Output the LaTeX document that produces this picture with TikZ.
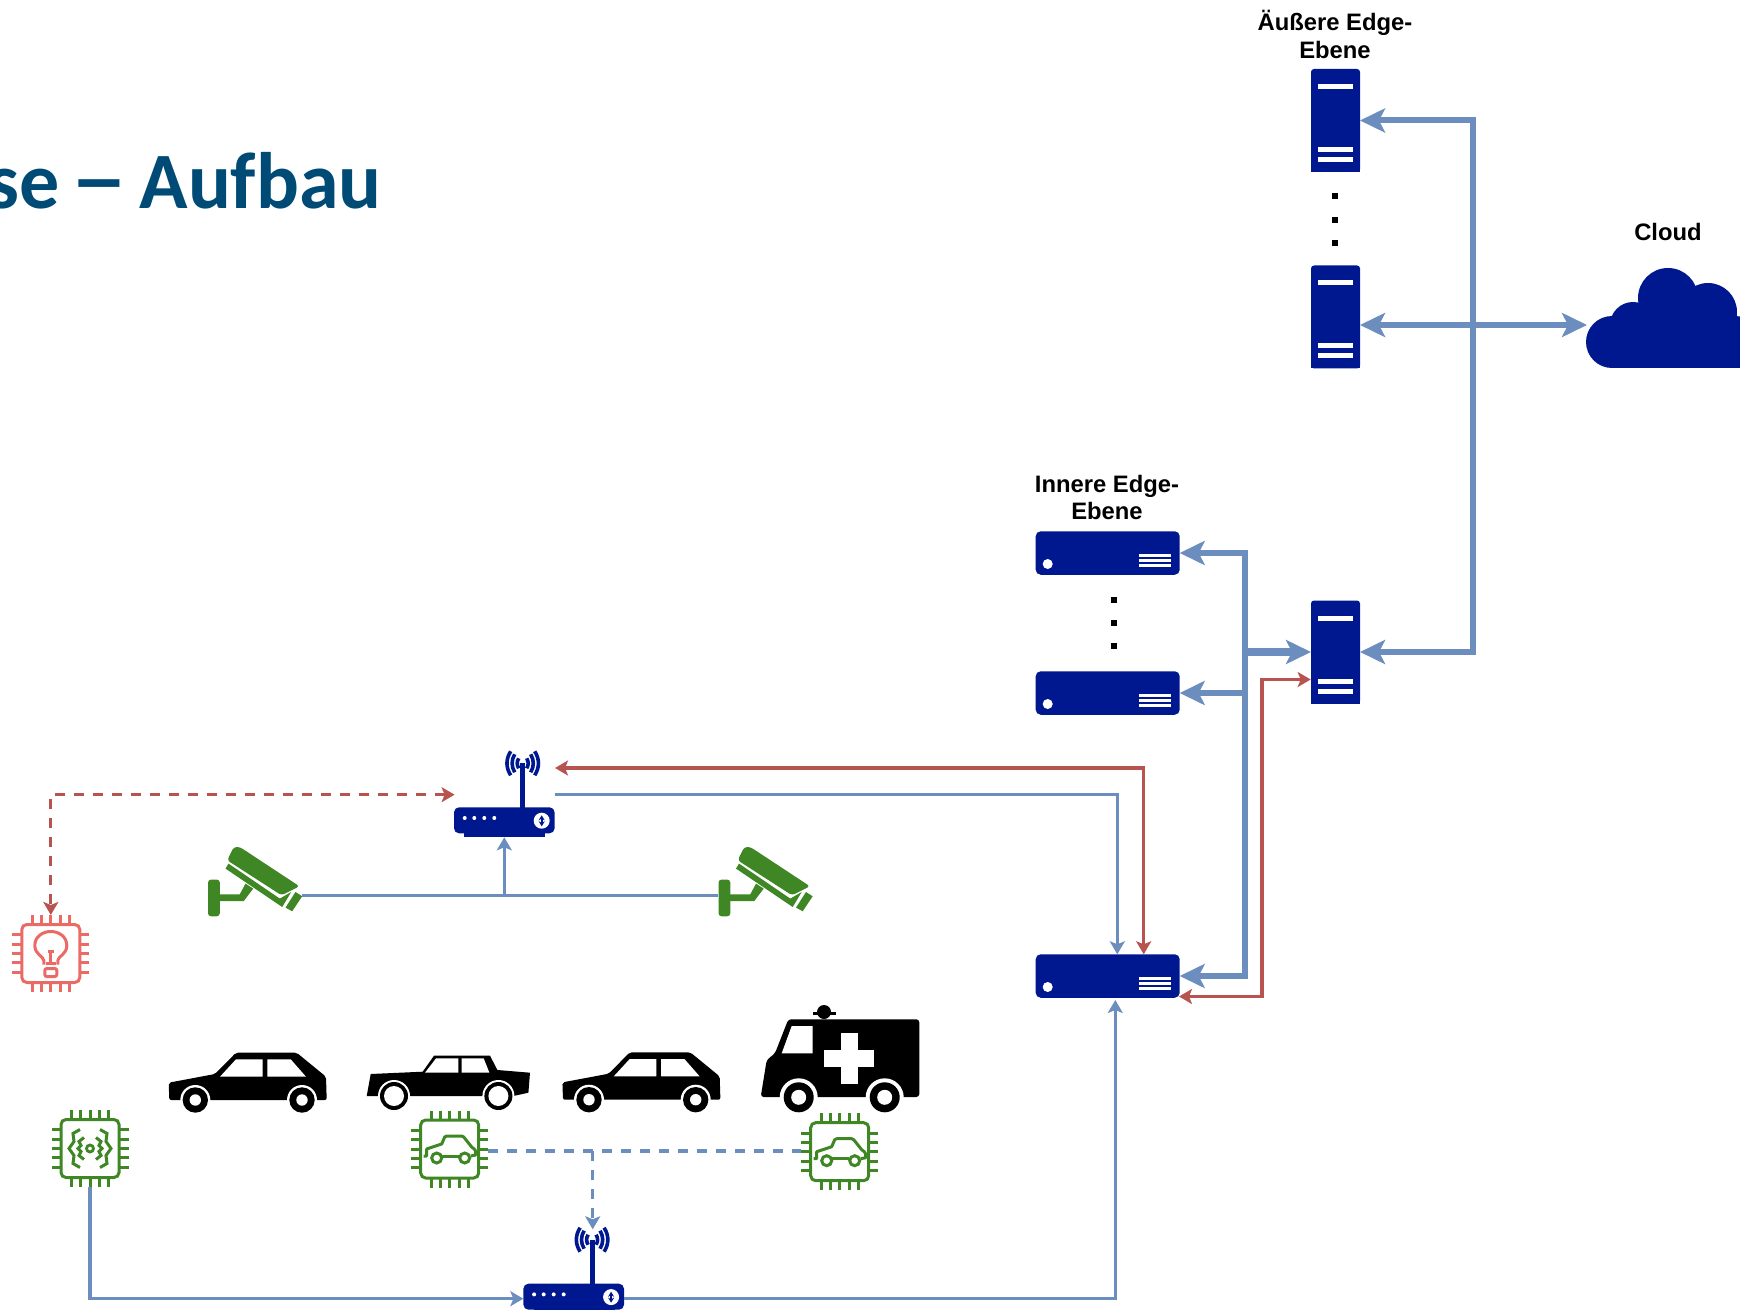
\documentclass[tikz,border=0pt]{standalone}
\usepackage{fontspec}
\setmainfont{Liberation Sans}
\newfontfamily\headfont[Ligatures=NoCommon]{Carlito}
\usetikzlibrary{arrows.meta,calc}

\definecolor{edgeblue}{HTML}{00188F}
\definecolor{linkblue}{HTML}{6C8EBF}
\definecolor{linkred}{HTML}{B85450}
\definecolor{chipgreen}{HTML}{3F8624}
\definecolor{chipred}{HTML}{EA6B66}
\definecolor{headblue}{HTML}{004B76}

\tikzset{
    iconbox/.style 2 args={inner sep=0pt, outer sep=0pt, minimum width=#1, minimum height=#2},
    thicklink/.style={linkblue, line width=3pt, >={Stealth[length=12.5pt,width=12pt,inset=3pt]}},
    bluelink/.style={linkblue, line width=1.6pt},
    redlink/.style={linkred, line width=1.6pt},
    dashlink/.style={dash pattern=on 5pt off 4.5pt},
    levellabel/.style={align=center, font=\fontsize{11.9}{13.8}\selectfont\bfseries},
    pics/tower/.style={code={
        \node[iconbox={24.5pt}{51.5pt}, fill=edgeblue, rounded corners=1.5pt] (-box) {};
        \fill[edgeblue] (-24.5,30) rectangle (24.5,51.5);
        \fill[white] (-17.5,-36.5) rectangle (17.5,-31.5);
        \fill[white] (-17.5,26.5) rectangle (17.5,31.5);
        \fill[white] (-17.5,36.5) rectangle (17.5,41.5);
    }},
    pics/flatserver/.style={code={
        \node[iconbox={72pt}{21.75pt}, fill=edgeblue, rounded corners=2.5pt] (-box) {};
        \fill[white] (-60,11) circle (5);
        \fill[white] (31,0.5) rectangle (63,3.5);
        \fill[white] (31,5.5) rectangle (63,8.5);
        \fill[white] (31,10.5) rectangle (63,13.5);
    }},
    pics/router/.style={code={
        \node[iconbox={50.35pt}{15pt}] (-box) {};
        \fill[edgeblue, rounded corners=2.5pt] (-50.3,-15) rectangle (50.3,11);
        \fill[edgeblue] (-40,8) rectangle (41,15);
        \draw[edgeblue, line width=2.4pt] (18.4,-14) -- (18.4,-59);
        \foreach \s in {-1,1} {
            \begin{scope}[shift={(18.4,-59)}, xscale=\s, edgeblue, line width=1.8pt]
                \draw (12,-12) .. controls (17,-4) and (17,4) .. (12,12);
                \draw (8,-9) .. controls (11.5,-3) and (11.5,3) .. (8,9);
                \draw (4,-5) .. controls (6,-1.5) and (6,1.5) .. (4,5);
            \end{scope}
        }
        \foreach \x in {-39.6,-30,-20,-10} {
            \fill[white] (\x,-4.3) circle (2);
        }
        \fill[white] (37.4,-1.6) circle (8);
        \draw[edgeblue, line width=0.8pt, {Stealth[length=2.5pt,width=3pt]}-{Stealth[length=2.5pt,width=3pt]}] (37.4,-7) -- (37.4,4);
    }},
    pics/cloudicon/.style={code={
        \node[iconbox={77pt}{43pt}] (-box) {};
        \fill[edgeblue] (-52,17) circle (26);
        \fill[edgeblue] (-31,0) circle (23);
        \fill[edgeblue] (4,-27) circle (30);
        \fill[edgeblue] (44,-13) circle (29);
        \fill[edgeblue] (71,17) circle (26);
        \fill[edgeblue] (-52,-5) rectangle (85,43);
    }},
    pics/camera/.style={code={
        \node[iconbox={47pt}{32pt}] (-box) {};
        \fill[chipgreen, rounded corners=1.5pt] (-46.5,-15.7) -- (-34.7,-15.7) -- (-34.7,21) -- (-46.5,21) -- cycle;
        \fill[chipgreen] (-36,-1) -- (-14.7,-1) -- (-9,-11.7) -- (-1.3,-6.7) -- (-10.7,5.7) -- (-36,5.7) -- cycle;
        \fill[chipgreen, rounded corners=1.5pt] (-27.3,-35) -- (-20.7,-48.3) -- (-14.7,-48.3) -- (45,-9) -- (27,0) -- cycle;
        \fill[chipgreen] (-29,-26.7) -- (-26,-31.7) -- (25.3,3.3) -- (36.7,-3.3) -- (27.7,11.7) -- cycle;
        \fill[chipgreen] (31,12.3) -- (41,-3.3) -- (47.7,1) -- (37.7,16) -- cycle;
    }},
    pics/chip/.style={code={
        \node[iconbox={38.5pt}{38.5pt}] (-box) {};
        \draw[#1, line width=1.5pt, rounded corners=2.5pt] (-29,-29) rectangle (29,29);
        \foreach \p in {-18.6,-9.3,0,9.3,18.6} {
            \draw[#1, line width=1.5pt] (-38.5,\p) -- (-29,\p);
            \draw[#1, line width=1.5pt] (38.5,\p) -- (29,\p);
            \draw[#1, line width=1.5pt] (\p,-38.5) -- (\p,-29);
            \draw[#1, line width=1.5pt] (\p,38.5) -- (\p,29);
        }
    }},
    pics/caricon/.style={code={
        \draw[chipgreen, line width=1.5pt, line join=round] (-9,7) -- (9,7);
        \draw[chipgreen, line width=1.5pt, line join=round] (-26,7) -- (-23,7) -- (-23,0) -- (-8,-5) -- (-5,-12) .. controls (-4,-13) .. (-3,-13) -- (12,-13) .. controls (13,-13) .. (14,-12) -- (22,-2) .. controls (26,1) .. (26,6) -- (21,7);
        \draw[chipgreen, line width=1.5pt] (-13,9) circle (5);
        \draw[chipgreen, line width=1.5pt] (15,9) circle (5);
    }},
    pics/bulbicon/.style={code={
        \draw[chipred, line width=1.5pt] (-7,11) -- (-7,7) .. controls (-7,3) and (-16,1) .. (-16,-8) .. controls (-16,-17) and (-8,-22) .. (0,-22) .. controls (8,-22) and (16,-17) .. (16,-8) .. controls (16,1) and (7,3) .. (7,7) -- (7,11);
        \draw[chipred, line width=1.5pt] (-3,-2) -- (3,-2);
        \draw[chipred, line width=1.5pt] (0,-2) -- (0,10);
        \draw[chipred, line width=1.5pt] (-5,10) -- (5,10);
        \draw[chipred, line width=1.5pt, rounded corners=1pt] (-6,15) rectangle (6,23);
    }},
    pics/bracesicon/.style={code={
        \foreach \s in {-1,1} {
            \begin{scope}[xscale=\s, chipgreen, line width=1.5pt]
                \draw (10,-19) -- (17,-15) -- (16,-7) -- (21,0) -- (16,7) -- (17,15) -- (10,19);
                \draw (6,-11) -- (11,-7) -- (9,-3) -- (12,0) -- (9,3) -- (11,7) -- (6,11);
            \end{scope}
        }
        \draw[chipgreen, line width=1.4pt] (0,0) circle (3.5);
    }},
    pics/hatchback/.style={code={
        \node[iconbox={39.5pt}{15pt}] (-box) {};
        \fill[black, rounded corners=1pt] (-78.7,17) -- (-79.3,-0.3) -- (-33,-9) -- (-12,-30.3) -- (48.7,-30.3) -- (78,-6.3) -- (78.7,17) -- cycle;
        \fill[white] (-28,-6.3) -- (-12,-23.7) -- (14.7,-23.7) -- (14.7,-6.3) -- cycle;
        \fill[white] (19.3,-23.7) -- (42.7,-23.7) -- (58,-6.3) -- (19.3,-6.3) -- cycle;
        \foreach \x in {-52.7,54} {
            \fill[white] (\x,17) circle (15);
            \fill[black] (\x,17) circle (12.7);
            \fill[white] (\x,17) circle (5.7);
        }
    }},
    pics/sedan/.style={code={
        \node[iconbox={41pt}{15pt}] (-box) {};
        \fill[black] (-82,13.3) -- (-78,-8.7) -- (-26,-11) -- (-14.7,-27) -- (41.3,-27) -- (48.7,-12.7) -- (81.3,-10) -- (79.7,10) -- (64.7,13.3) -- cycle;
        \fill[white] (-23.7,-10) -- (-12.7,-24.3) -- (9.7,-24.3) -- (9.7,-10) -- cycle;
        \fill[white] (13,-24.3) -- (35,-24.3) -- (40.7,-10) -- (13,-10) -- cycle;
        \foreach \x in {-54.7,49.7} {
            \fill[white] (\x,13.3) circle (16);
            \fill[black] (\x,13.3) circle (14);
            \fill[white] (\x,13.3) circle (10);
        }
    }},
    pics/ambulance/.style={code={
        \node[iconbox={40pt}{28pt}] (-box) {};
        \fill[black, rounded corners=1.5pt] (-79.3,39) -- (-73.3,2) -- (-65,-4.7) -- (-51.7,-38.7) -- (79.3,-38.7) -- (79.3,39) -- cycle;
        \fill[black] (-16,-46) circle (7);
        \fill[black] (-26.7,-46) rectangle (-4,-42.7);
        \fill[white] (-58.3,-4.7) -- (-48.3,-32) -- (-27.3,-32) -- (-27.3,-4.7) -- cycle;
        \fill[white] (1,-24.7) rectangle (17.7,26);
        \fill[white] (-15.7,-8) rectangle (34.3,9.3);
        \foreach \x in {-41.3,44.7} {
            \fill[white] (\x,39.3) circle (19);
            \fill[black] (\x,39.3) circle (15);
            \fill[white] (\x,39.3) circle (7.5);
        }
    }},
}

\begin{document}
\begin{tikzpicture}[x=0.5pt, y=-0.5pt, >={Stealth[length=6.5pt,width=7.5pt,inset=1.5pt]}]
    \useasboundingbox (0,0) rectangle (1740,1310);
    \clip (0,0) rectangle (1740,1310);

    \node[anchor=base east, inner sep=0pt, text=headblue, font=\headfont\fontsize{40}{48}\selectfont\bfseries] (title) at (382,209) {\spaceskip=5.5pt se \scalebox{1.45}[1.1]{–} Aufbau};

    \pic (outerA) at (1335.5,120.5) {tower};
    \pic (outerB) at (1335.5,317) {tower};
    \pic (midTower) at (1335.5,652) {tower};
    \pic (innerA) at (1107.7,553) {flatserver};
    \pic (innerB) at (1107.7,693) {flatserver};
    \pic (innerC) at (1107.7,976) {flatserver};
    \pic (cloud) at (1664,325) {cloudicon};

    \node[levellabel] (outerLabel) at (1335,34.5) {Äußere Edge-\\Ebene};
    \node[levellabel] (innerLabel) at (1107,497.5) {Innere Edge-\\Ebene};
    \node[levellabel] (cloudLabel) at (1668,232) {Cloud};

    \foreach \y in {196,220,243} {
        \fill (1332,\y-3) rectangle (1338,\y+3);
    }
    \foreach \y in {600,623,646} {
        \fill (1111,\y-3) rectangle (1117,\y+3);
    }

    \pic (upRouter) at (504.3,822.3) {router};
    \pic (lowRouter) at (573.7,1298.7) {router};
    \pic (camLeft) at (254.5,895.3) {camera};
    \pic (camRight) at (765,895.3) {camera};
    \pic (bulbChip) at (50.8,953.5) {chip=chipred};
    \pic at (50.8,953.5) {bulbicon};
    \pic (bracesChip) at (90,1148.5) {chip=chipgreen};
    \pic at (90,1148.5) {bracesicon};
    \pic (carChipA) at (449.7,1149) {chip=chipgreen};
    \pic at (449.7,1149) {caricon};
    \pic (carChipB) at (839.7,1151.7) {chip=chipgreen};
    \pic at (839.7,1151.7) {caricon};
    \pic (carA) at (248,1083) {hatchback};
    \pic (carB) at (448.7,1082.7) {sedan};
    \pic (carC) at (641.7,1082.7) {hatchback};
    \pic (ambulance) at (840,1058) {ambulance};

    \coordinate (outerBus) at (1473,652);
    \coordinate (innerBus) at (1245,652);
    \coordinate (midRed) at (1310.7,679.5);
    \coordinate (innerRedIn) at (1179,996.5);
    \coordinate (innerRedTurn) at (1262,996.5);
    \coordinate (upRed) at (555,768);
    \coordinate (upBlue) at (554.7,794.7);
    \coordinate (upDash) at (454.6,794.7);
    \coordinate (innerTopBlue) at (1117.3,954.3);
    \coordinate (innerTopRed) at (1143.7,954.3);
    \coordinate (innerBottom) at (1115.3,1000);
    \coordinate (camJoin) at (upRouter-box.south |- camLeft-box.east);
    \coordinate (carJoin) at (592.7,1151);
    \coordinate (lowDash) at (592.7,1229.3);
    \coordinate (carChipBIn) at (carChipB-box.west |- carJoin);
    \coordinate (carChipAOut) at (carChipA-box.east |- carJoin);

    \draw[thicklink, <->] (midTower-box.east) -- (outerBus) |- (outerA-box.east);
    \draw[thicklink, <->] (outerB-box.east |- cloud-box.west) -- (cloud-box.west);
    \draw[thicklink, line width=3.6pt, ->] (innerBus) -- (midTower-box.west);
    \draw[thicklink, ->] (innerBus) |- (innerA-box.east);
    \draw[thicklink, ->] (innerBus) |- (innerB-box.east);
    \draw[thicklink, ->] (innerBus) |- (innerC-box.east);

    \draw[redlink, <->] (innerRedIn) -- (innerRedTurn) |- (midRed);
    \draw[redlink, <->] (upRed) -| (innerTopRed);
    \draw[bluelink, ->] (upBlue) -| (innerTopBlue);
    \draw[bluelink, ->] (lowRouter-box.east) -| (innerBottom);
    \draw[bluelink, ->] (bracesChip-box.south) |- (lowRouter-box.west);
    \draw[bluelink] (camLeft-box.east) -- (camRight-box.west);
    \draw[bluelink, ->] (camJoin) -- (upRouter-box.south);

    \draw[redlink, dashlink, <->] (upDash) -| (bulbChip-box.north);
    \draw[bluelink, dashlink] (carChipAOut) -- (carChipBIn);
    \draw[bluelink, dashlink, ->] (carJoin) -- (lowDash);
\end{tikzpicture}
\end{document}
